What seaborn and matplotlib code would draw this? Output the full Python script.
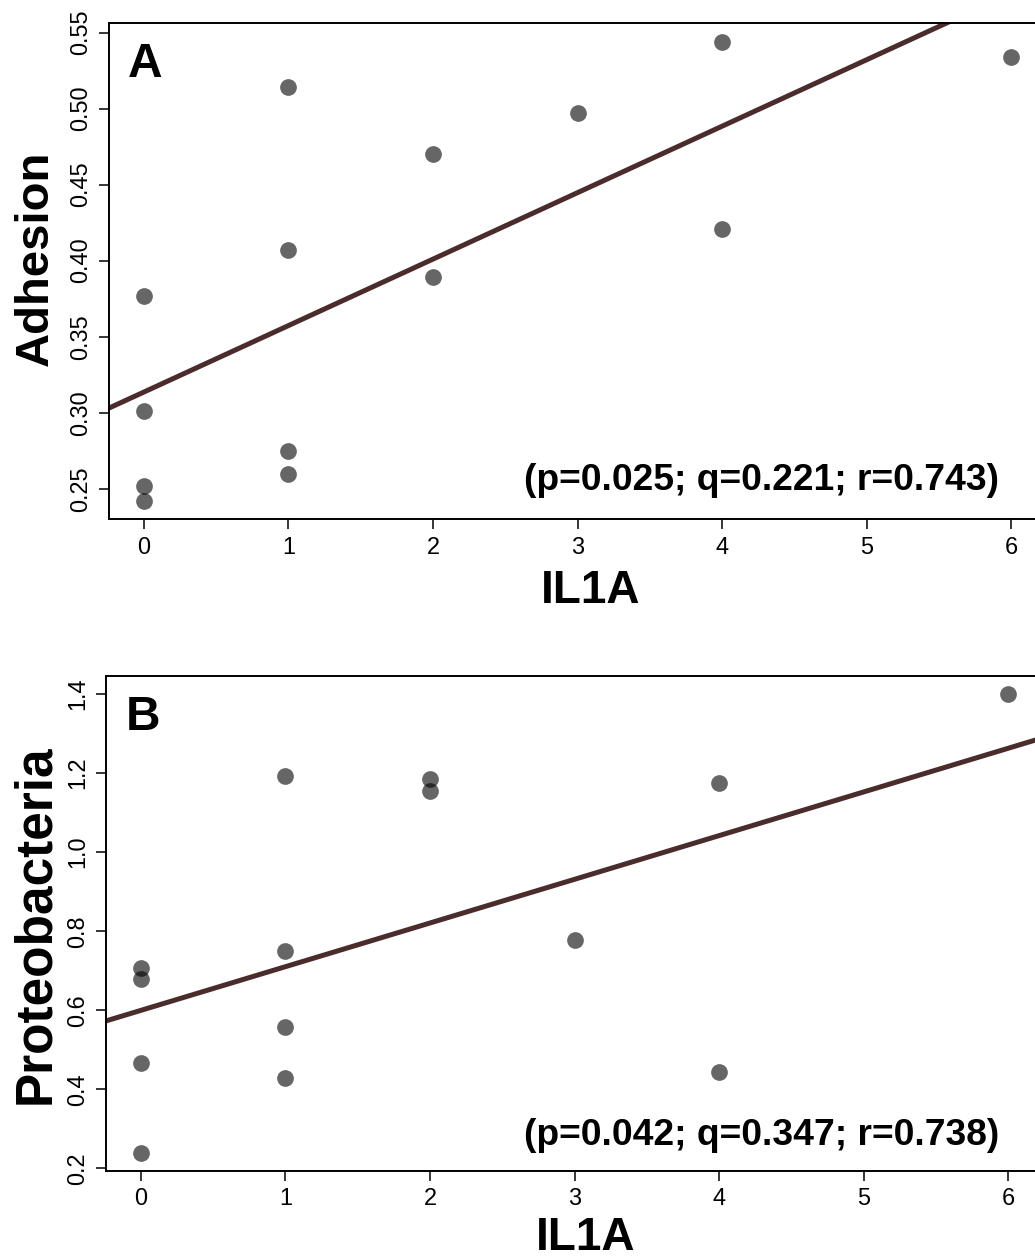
import numpy as np
import pandas as pd
import matplotlib
matplotlib.use("Agg")
import matplotlib.pyplot as plt
import seaborn as sns

# valeurs
il1a = [0, 0, 0, 0, 1, 1, 1, 1, 2, 2, 3, 4, 4, 6]
adhesion = [0.377, 0.301, 0.252, 0.242, 0.514, 0.407, 0.275, 0.260,
            0.470, 0.389, 0.497, 0.544, 0.421, 0.534]
proteobacteria = [0.706, 0.678, 0.467, 0.240, 1.192, 0.751, 0.559, 0.429,
                  1.185, 1.154, 0.779, 1.176, 0.445, 1.400]
stats_a = "(p=0.025; q=0.221; r=0.743)"
stats_b = "(p=0.042; q=0.347; r=0.738)"
xticks = [0, 1, 2, 3, 4, 5, 6]
yticks_a = [0.25, 0.30, 0.35, 0.40, 0.45, 0.50, 0.55]
yticks_b = [0.2, 0.4, 0.6, 0.8, 1.0, 1.2, 1.4]

df = pd.DataFrame({"IL1A": il1a, "Adhesion": adhesion,
                   "Proteobacteria": proteobacteria})

sns.set_style("ticks")
plt.rcParams['font.family'] = ['Liberation Sans', 'DejaVu Sans']
plt.rcParams['text.color'] = 'black'
plt.rcParams['axes.labelcolor'] = 'black'

W, H = 1035, 1258
fig = plt.figure(figsize=(W / 100, H / 100), dpi=100)


def r_range(v):
    lo, hi = min(v), max(v)
    pad = 0.04 * (hi - lo)
    return lo - pad, hi + pad


def panel(rect_px, col, letter, stats, yticks, yfmt, ylab_xy, ylab_size, xlab_xy):
    left, top, right, bottom = rect_px
    ax = fig.add_axes([left / W, 1 - bottom / H, (right - left) / W, (bottom - top) / H])
    ax.set_xlim(r_range(il1a))
    ax.set_ylim(r_range(df[col]))
    sns.regplot(data=df, x="IL1A", y=col, ax=ax, ci=None, truncate=False,
                scatter_kws=dict(s=145, color="black", alpha=0.6, linewidths=0),
                line_kws=dict(color="#4a2c2c", lw=3.6))
    ax.set_xlim(r_range(il1a))
    ax.set_ylim(r_range(df[col]))
    ax.set_xticks(xticks)
    ax.set_yticks(yticks)
    ax.set_yticklabels([yfmt % t for t in yticks], rotation=90, va="center")
    ax.tick_params(direction="out", length=7.2, width=1.1, labelsize=16.9,
                   color="black", labelcolor="black")
    ax.tick_params(axis="y", pad=5)
    ax.tick_params(axis="x", pad=4.5)
    for s in ax.spines.values():
        s.set_visible(True)
        s.set_linewidth(1.4)
        s.set_color("black")
    ax.set_xlabel("")
    ax.set_ylabel("")
    fig.text(ylab_xy[0] / W, 1 - ylab_xy[1] / H, col, rotation=90, ha="center",
             va="center", fontsize=ylab_size, fontweight="bold")
    fig.text(xlab_xy[0] / W, 1 - xlab_xy[1] / H, "IL1A", ha="center",
             va="center", fontsize=33, fontweight="bold")
    fig.text((left + 19) / W, 1 - (top + 54) / H, letter, ha="left",
             va="baseline", fontsize=34.5, fontweight="bold")
    fig.text(999 / W, 1 - stats[1] / H, stats[0], ha="right", va="baseline",
             fontsize=26.8, fontweight="bold")
    return ax


panel((109.3, 23.3, 1045.7, 519.3), "Adhesion", "A", (stats_a, 490),
      yticks_a, "%.2f", (36, 258), 34, (591, 591))
panel((106.3, 675.7, 1042.7, 1171.0), "Proteobacteria", "B", (stats_b, 1145),
      yticks_b, "%.1f", (36, 924), 37, (586, 1238))

fig.savefig("out.png", dpi=100)
